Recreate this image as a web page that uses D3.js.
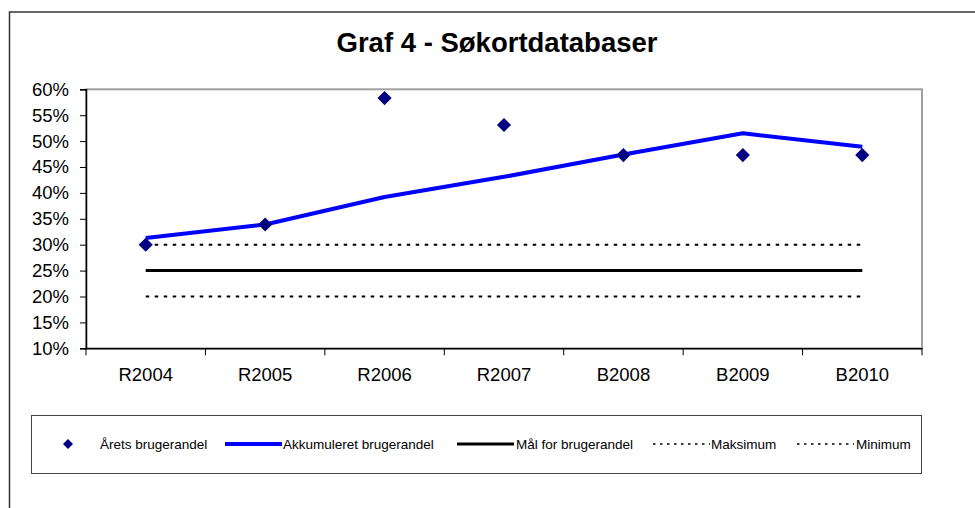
<!DOCTYPE html>
<html>
<head>
<meta charset="utf-8">
<script src="https://cdn.jsdelivr.net/npm/d3@7"></script>
<style>
  html, body { margin: 0; padding: 0; background: #fff; }
  svg { display: block; font-family: "Liberation Sans", Arial, sans-serif; }
</style>
</head>
<body>
<svg id="chart" width="975" height="508"></svg>
<script>
const title = "Graf 4 - Søkortdatabaser";
const categories = ["R2004", "R2005", "R2006", "R2007", "B2008", "B2009", "B2010"];
const aaretsBrugerandel = [0.300, 0.339, 0.583, 0.531, 0.473, 0.473, 0.473];
const akkumuleretBrugerandel = [0.313, 0.339, 0.392, 0.431, 0.474, 0.515, 0.489];
const maalForBrugerandel = [0.25, 0.25, 0.25, 0.25, 0.25, 0.25, 0.25];
const maksimum = [0.30, 0.30, 0.30, 0.30, 0.30, 0.30, 0.30];
const minimum = [0.20, 0.20, 0.20, 0.20, 0.20, 0.20, 0.20];
const yTicks = [0.10, 0.15, 0.20, 0.25, 0.30, 0.35, 0.40, 0.45, 0.50, 0.55, 0.60];
const legendLabels = ["Årets brugerandel", "Akkumuleret brugerandel", "Mål for brugerandel", "Maksimum", "Minimum"];

const svg = d3.select("#chart");
const plot = { left: 86, top: 89.3, right: 922, bottom: 348.3 };

// outer chart border
svg.append("rect").attr("x", 9.5).attr("y", 12).attr("width", 1000).attr("height", 520)
  .attr("fill", "#fff").attr("stroke", "#333").attr("stroke-width", 1.5);

// title
svg.append("text").attr("x", 497).attr("y", 52).attr("text-anchor", "middle")
  .attr("font-size", 27.5).attr("font-weight", "bold").attr("fill", "#000").text(title);

const x = d3.scaleBand().domain(categories).range([plot.left, plot.right]).padding(0);
const y = d3.scaleLinear().domain([0.10, 0.60]).range([plot.bottom, plot.top]);
const cx = c => x(c) + x.bandwidth() / 2;

// plot area border
svg.append("rect").attr("x", plot.left).attr("y", plot.top)
  .attr("width", plot.right - plot.left).attr("height", plot.bottom - plot.top)
  .attr("fill", "#fff").attr("stroke", "#a0a0a0").attr("stroke-width", 2);

// y axis
const yAxis = svg.append("g").attr("transform", `translate(${plot.left},0)`)
  .call(d3.axisLeft(y).tickValues(yTicks).tickFormat(d3.format(".0%")).tickSize(6).tickPadding(11));
yAxis.select(".domain").attr("stroke", "#000").attr("stroke-width", 1.5);
yAxis.selectAll(".tick line").attr("stroke", "#000");
yAxis.selectAll("text").attr("font-size", 18.5).attr("fill", "#000")
  .attr("font-family", "'Liberation Sans', Arial, sans-serif");

// x axis
const xAxis = svg.append("g").attr("transform", `translate(0,${plot.bottom})`)
  .call(d3.axisBottom(x).tickSize(0).tickPadding(20));
xAxis.select(".domain").attr("stroke", "#000").attr("stroke-width", 1.5);
xAxis.selectAll("text").attr("font-size", 18.5).attr("fill", "#000")
  .attr("font-family", "'Liberation Sans', Arial, sans-serif");
// category boundary ticks
const bounds = categories.map(c => x(c)).concat([plot.right]);
xAxis.selectAll(".bound").data(bounds).enter().append("line").attr("class", "bound")
  .attr("x1", d => d).attr("x2", d => d).attr("y1", 0).attr("y2", 7)
  .attr("stroke", "#000").attr("stroke-width", 1);

const line = d3.line().x((d, i) => cx(categories[i])).y(d => y(d));

// minimum / maksimum dotted
[maksimum, minimum].forEach(arr => {
  svg.append("path").datum(arr).attr("d", line).attr("fill", "none")
    .attr("stroke", "#000").attr("stroke-width", 2).attr("stroke-dasharray", "3.5,5.5");
});
// mål
svg.append("path").datum(maalForBrugerandel).attr("d", line).attr("fill", "none")
  .attr("stroke", "#000").attr("stroke-width", 3);
// akkumuleret
svg.append("path").datum(akkumuleretBrugerandel).attr("d", line).attr("fill", "none")
  .attr("stroke", "#0000ff").attr("stroke-width", 4).attr("stroke-linejoin", "round");
// årets diamonds
const diamond = d3.symbol().type(d3.symbolSquare).size(100);
svg.selectAll(".pt").data(aaretsBrugerandel).enter().append("path").attr("class", "pt")
  .attr("d", diamond)
  .attr("transform", (d, i) => `translate(${cx(categories[i])},${y(d)}) rotate(45)`)
  .attr("fill", "#000080");

// legend
const lg = svg.append("g");
lg.append("rect").attr("x", 31.5).attr("y", 415.5).attr("width", 890).attr("height", 58)
  .attr("fill", "#fff").attr("stroke", "#444").attr("stroke-width", 1);
const ly = 444;
const symX = [null, 225, 457, 653, 797];
const textX = [100, 283, 516, 711, 856];
const styles = [
  null,
  { stroke: "#0000ff", w: 4, dash: null },
  { stroke: "#000", w: 3, dash: null },
  { stroke: "#000", w: 1.3, dash: "2.5,4.5" },
  { stroke: "#000", w: 1.3, dash: "2.5,4.5" }
];
lg.append("path").attr("d", d3.symbol().type(d3.symbolSquare).size(50))
  .attr("transform", `translate(68,${ly}) rotate(45)`).attr("fill", "#000080");
legendLabels.forEach((lab, i) => {
  if (styles[i]) {
    lg.append("line").attr("x1", symX[i]).attr("x2", symX[i] + 57).attr("y1", ly).attr("y2", ly)
      .attr("stroke", styles[i].stroke).attr("stroke-width", styles[i].w)
      .attr("stroke-dasharray", styles[i].dash);
  }
  lg.append("text").attr("x", textX[i]).attr("y", ly).attr("dy", "0.35em")
    .attr("font-size", 13.5).attr("fill", "#000").text(lab);
});
</script>
</body>
</html>
